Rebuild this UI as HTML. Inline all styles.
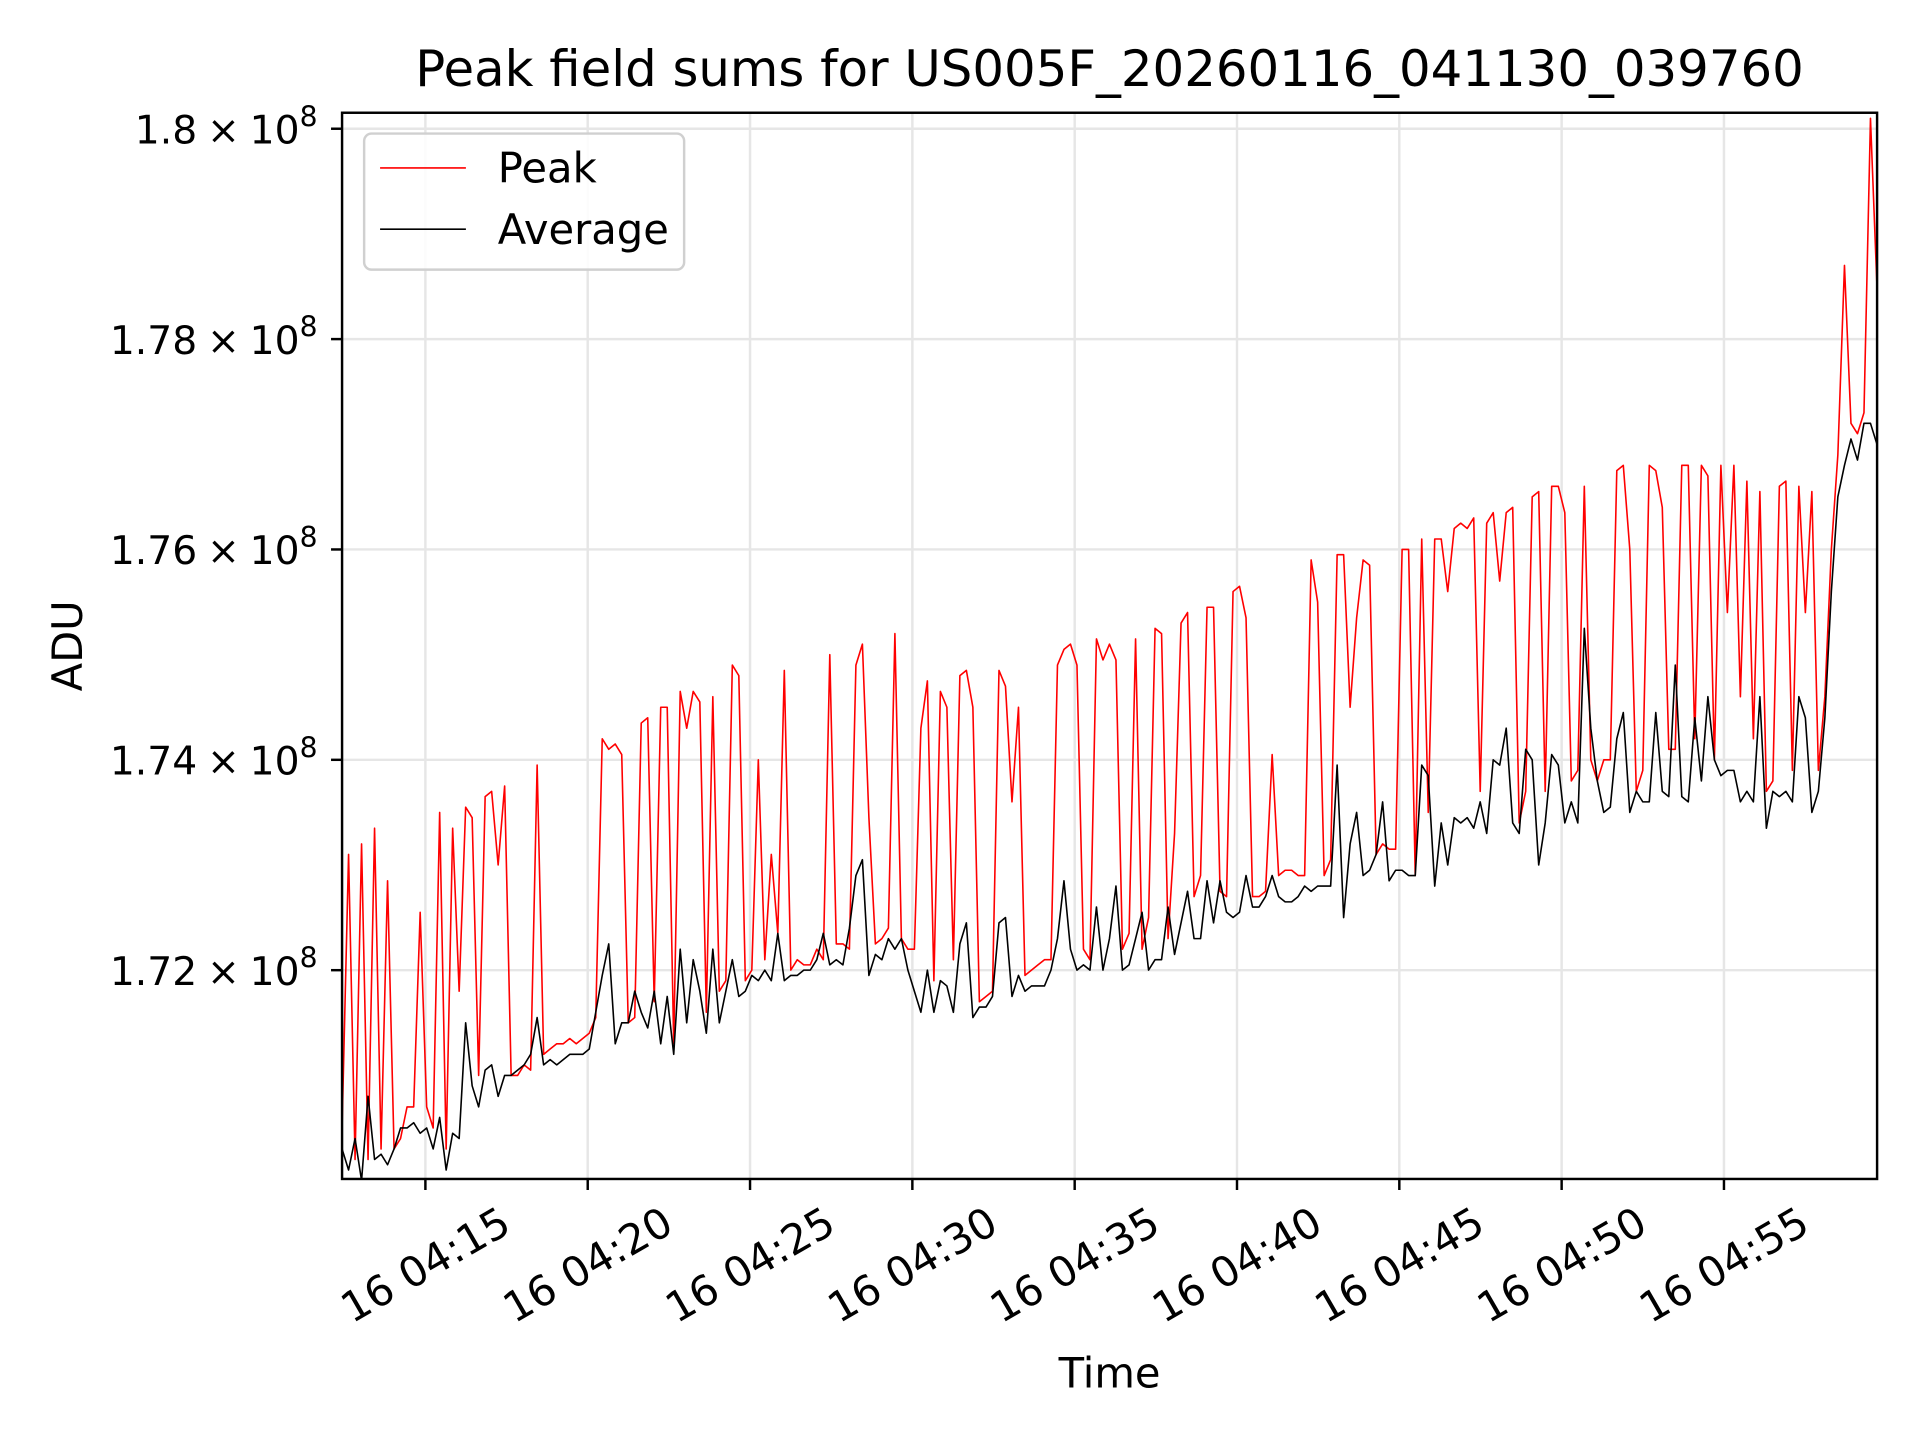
<!DOCTYPE html>
<html><head><meta charset="utf-8"><style>
html,body{margin:0;padding:0;background:#fff;}
svg{display:block;font-family:"DejaVu Sans","Liberation Sans",sans-serif;}
</style></head><body>
<svg id="chart" width="1920" height="1440" viewBox="0 0 1566 1175" preserveAspectRatio="none" xmlns="http://www.w3.org/2000/svg">
<rect x="0" y="0" width="1566" height="1175" fill="#fff"/>
<text x="905" y="70" font-size="40.6" text-anchor="middle">Peak field sums for US005F_20260116_041130_039760</text>
<g id="grid"></g>
<g id="series"></g>
<rect x="279" y="92" width="1252" height="870" fill="none" stroke="#000" stroke-width="2"/>
<g id="ticks"></g>
<text x="905" y="1132" font-size="34" text-anchor="middle">Time</text>
<text x="67" y="527" font-size="34" text-anchor="middle" transform="rotate(-90 67 527)">ADU</text>
<g>
<rect x="297" y="109" width="261" height="111" rx="6" fill="#fff" fill-opacity="0.85" stroke="#d0d0d0" stroke-width="2"/>
<line x1="310" y1="137" x2="380" y2="137" stroke="#ff0000" stroke-width="1.3"/>
<text x="406" y="149" font-size="34">Peak</text>
<line x1="310" y1="187" x2="380" y2="187" stroke="#000" stroke-width="1.3"/>
<text x="406" y="199" font-size="34">Average</text>
</g>
</svg>
<script>
// time axis: first sample in seconds after 04:00:00, sample cadence in seconds
const startSec = 746;
const stepSec = 12.02;
const xTickMinutes = [15,20,25,30,35,40,45,50,55];
const xTickLabels = ["16 04:15","16 04:20","16 04:25","16 04:30","16 04:35","16 04:40","16 04:45","16 04:50","16 04:55"];
const yTickValues = [172,174,176,178,180];
const yTickMantissa = ["1.72","1.74","1.76","1.78","1.8"];
// values in units of 1e6 ADU
const averageValues = [
170.3,170.1,170.4,170.0,170.8,170.2,170.25,170.15,170.3,170.5,
170.5,170.55,170.45,170.5,170.3,170.6,170.1,170.45,170.4,171.5,
170.9,170.7,171.05,171.1,170.8,171.0,171.0,171.05,171.1,171.2,
171.55,171.1,171.15,171.1,171.15,171.2,171.2,171.2,171.25,171.6,
171.95,172.25,171.3,171.5,171.5,171.8,171.6,171.45,171.8,171.3,
171.75,171.2,172.2,171.5,172.1,171.8,171.4,172.2,171.5,171.8,
172.1,171.75,171.8,171.95,171.9,172.0,171.9,172.35,171.9,171.95,
171.95,172.0,172.0,172.1,172.35,172.05,172.1,172.05,172.4,172.9,
173.05,171.95,172.15,172.1,172.3,172.2,172.3,172.0,171.8,171.6,
172.0,171.6,171.9,171.85,171.6,172.25,172.45,171.55,171.65,171.65,
171.75,172.45,172.5,171.75,171.95,171.8,171.85,171.85,171.85,172.0,
172.3,172.85,172.2,172.0,172.05,172.0,172.6,172.0,172.3,172.8,
172.0,172.05,172.3,172.55,172.0,172.1,172.1,172.6,172.15,172.45,
172.75,172.3,172.3,172.85,172.45,172.85,172.55,172.5,172.55,172.9,
172.6,172.6,172.7,172.9,172.7,172.65,172.65,172.7,172.8,172.75,
172.8,172.8,172.8,173.95,172.5,173.2,173.5,172.9,172.95,173.1,
173.6,172.85,172.95,172.95,172.9,172.9,173.95,173.85,172.8,173.4,
173.0,173.45,173.4,173.45,173.35,173.6,173.3,174.0,173.95,174.3,
173.4,173.3,174.1,174.0,173.0,173.4,174.05,173.95,173.4,173.6,
173.4,175.25,174.3,173.8,173.5,173.55,174.2,174.45,173.5,173.7,
173.6,173.6,174.45,173.7,173.65,174.9,173.65,173.6,174.4,173.8,
174.6,174.0,173.85,173.9,173.9,173.6,173.7,173.6,174.6,173.35,
173.7,173.65,173.7,173.6,174.6,174.4,173.5,173.7,174.4,175.6,
176.5,176.8,177.05,176.85,177.2,177.2,177.0];
const peakValues = [
170.5,173.1,170.2,173.2,170.2,173.35,170.3,172.85,170.3,170.4,
170.7,170.7,172.55,170.7,170.5,173.5,170.3,173.35,171.8,173.55,
173.45,171.0,173.65,173.7,173.0,173.75,171.0,171.0,171.1,171.05,
173.95,171.2,171.25,171.3,171.3,171.35,171.3,171.35,171.4,171.55,
174.2,174.1,174.15,174.05,171.5,171.55,174.35,174.4,171.7,174.5,
174.5,171.3,174.65,174.3,174.65,174.55,171.6,174.6,171.8,171.9,
174.9,174.8,171.9,172.0,174.0,172.1,173.1,172.35,174.85,172.0,
172.1,172.05,172.05,172.2,172.1,175.0,172.25,172.25,172.2,174.9,
175.1,173.45,172.25,172.3,172.4,175.2,172.3,172.2,172.2,174.3,
174.75,171.9,174.65,174.5,172.1,174.8,174.85,174.5,171.7,171.75,
171.8,174.85,174.7,173.6,174.5,171.95,172.0,172.05,172.1,172.1,
174.9,175.05,175.1,174.9,172.2,172.1,175.15,174.95,175.1,174.95,
172.2,172.35,175.15,172.2,172.5,175.25,175.2,172.3,173.3,175.3,
175.4,172.7,172.9,175.45,175.45,172.75,172.7,175.6,175.65,175.35,
172.7,172.7,172.75,174.05,172.9,172.95,172.95,172.9,172.9,175.9,
175.5,172.9,173.05,175.95,175.95,174.5,175.35,175.9,175.85,173.1,
173.2,173.15,173.15,176.0,176.0,172.9,176.1,173.5,176.1,176.1,
175.6,176.2,176.25,176.2,176.3,173.7,176.25,176.35,175.7,176.35,
176.4,173.4,173.7,176.5,176.55,173.7,176.6,176.6,176.35,173.8,
173.9,176.6,174.0,173.8,174.0,174.0,176.75,176.8,176.0,173.7,
173.9,176.8,176.75,176.4,174.1,174.1,176.8,176.8,174.2,176.8,
176.7,174.0,176.8,175.4,176.8,174.6,176.65,174.2,176.55,173.7,
173.8,176.6,176.65,173.9,176.6,175.4,176.55,173.9,174.6,176.0,
176.9,178.7,177.2,177.1,177.3,180.1,178.5];

const NS = "http://www.w3.org/2000/svg";
const L = 279, R = 1531, T = 92, B = 962;
const xMinSec = 746, xMaxSec = 3583;
const yMin = 170.015, yMax = 180.152;
function xScale(sec){ return L + (sec - xMinSec) / (xMaxSec - xMinSec) * (R - L); }
function yScale(v){ return B - (v - yMin) / (yMax - yMin) * (B - T); }
function mk(tag, attrs){ const e = document.createElementNS(NS, tag); for (const k in attrs) e.setAttribute(k, attrs[k]); return e; }

const grid = document.getElementById('grid');
const ticks = document.getElementById('ticks');
xTickMinutes.forEach((m, i) => {
  const x = xScale(m * 60);
  const g = mk('line', {x1:x, y1:T, x2:x, y2:B, stroke:'#e6e6e6', 'stroke-width':2});
  
  
  grid.appendChild(g);
  const t = mk('line', {x1:x, y1:B, x2:x, y2:B+9, stroke:'#000', 'stroke-width':2});
  
  
  ticks.appendChild(t);
  const cx = x, cy = B + 70;
  const lb = mk('text', {x:cx, y:cy, 'font-size':34, 'text-anchor':'middle', transform:`rotate(-30 ${cx} ${cy})`, 'dominant-baseline':'central'});
  
  
  lb.textContent = xTickLabels[i];
  ticks.appendChild(lb);
});
yTickValues.forEach((v, i) => {
  const y = yScale(v);
  const g = mk('line', {x1:L, y1:y, x2:R, y2:y, stroke:'#e6e6e6', 'stroke-width':2});
  
  
  grid.appendChild(g);
  const t = mk('line', {x1:L-9, y1:y, x2:L, y2:y, stroke:'#000', 'stroke-width':2});
  
  
  ticks.appendChild(t);
  const lb = mk('text', {x:L-20, y:y+12, 'font-size':32, 'text-anchor':'end'});
  
  
  const a = mk('tspan', {}); a.textContent = yTickMantissa[i] + '\u2005\u00d7\u200510';
  const s = mk('tspan', {dy:-14, 'font-size':23}); s.textContent = '8';
  lb.appendChild(a); lb.appendChild(s);
  ticks.appendChild(lb);
});

const series = document.getElementById('series');
function drawLine(vals, color, name){
  const pts = vals.map((v, i) => xScale(startSec + i * stepSec).toFixed(1) + ',' + yScale(v).toFixed(1)).join(' ');
  const p = mk('polyline', {points:pts, fill:'none', stroke:color, 'stroke-width':1.3, 'stroke-linejoin':'round', 'clip-path':'url(#clipPlot)'});
  
  
  series.appendChild(p);
}
const defs = mk('defs', {});
const cp = mk('clipPath', {id:'clipPlot'});
cp.appendChild(mk('rect', {x:L, y:T, width:R-L, height:B-T}));
defs.appendChild(cp);
document.getElementById('chart').insertBefore(defs, document.getElementById('chart').firstChild);
drawLine(peakValues, '#ff0000', 'peak-series-line');
drawLine(averageValues, '#000000', 'average-series-line');
</script>
</body></html>
